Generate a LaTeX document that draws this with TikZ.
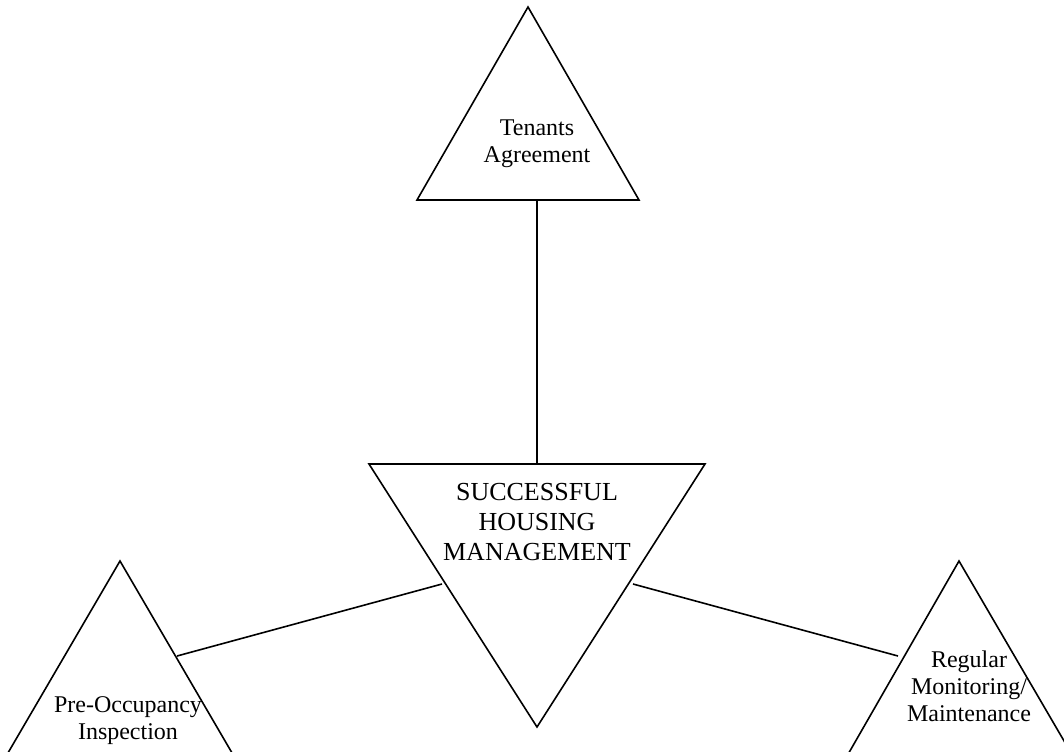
\documentclass[tikz,border=0pt]{standalone}
\usepackage{fontspec}
\setmainfont{Liberation Serif}
\tikzset{
  tri/.style={line width=1.2pt},
  link/.style={line width=1.2pt},
  lbl/.style={align=center,inner sep=0pt,font=\fontsize{18}{20.25}\selectfont},
  mainlbl/.style={align=center,inner sep=0pt,font=\fontsize{19.5}{22.5}\selectfont}
}
\begin{document}
\begin{tikzpicture}[x=0.75pt,y=-0.75pt]
  \useasboundingbox (0,0) rectangle (1064,751);
  \clip (0,0) rectangle (1064,751);
  % triangles
  \draw[tri] (528,7) -- (639,200) -- (417,200) -- cycle;
  \draw[tri] (369,464) -- (705,464) -- (537,727) -- cycle;
  \draw[tri] (120,561) -- (242,770) -- (-2,770) -- cycle;
  \draw[tri] (959,561) -- (1081,770) -- (839,770) -- cycle;
  % texts
  \node[lbl] (tenants) at (537,144) {Tenants\\Agreement};
  \node[mainlbl] (shm) at (537,522) {SUCCESSFUL\\HOUSING\\MANAGEMENT};
  \node[lbl] (preocc) at (128,721) {Pre-Occupancy\\Inspection};
  \node[lbl] (monit) at (969,686) {Regular\\Monitoring/\\Maintenance};
  % connectors
  \coordinate (t-foot) at (537,200);
  \coordinate (s-head) at (537,464);
  \coordinate (s-left) at (442,584);
  \coordinate (s-right) at (633,584);
  \coordinate (p-edge) at (177,656);
  \coordinate (m-edge) at (898,656);
  \draw[link] (t-foot) -- (s-head);
  \draw[link] (s-left) -- (p-edge);
  \draw[link] (s-right) -- (m-edge);
\end{tikzpicture}
\end{document}
